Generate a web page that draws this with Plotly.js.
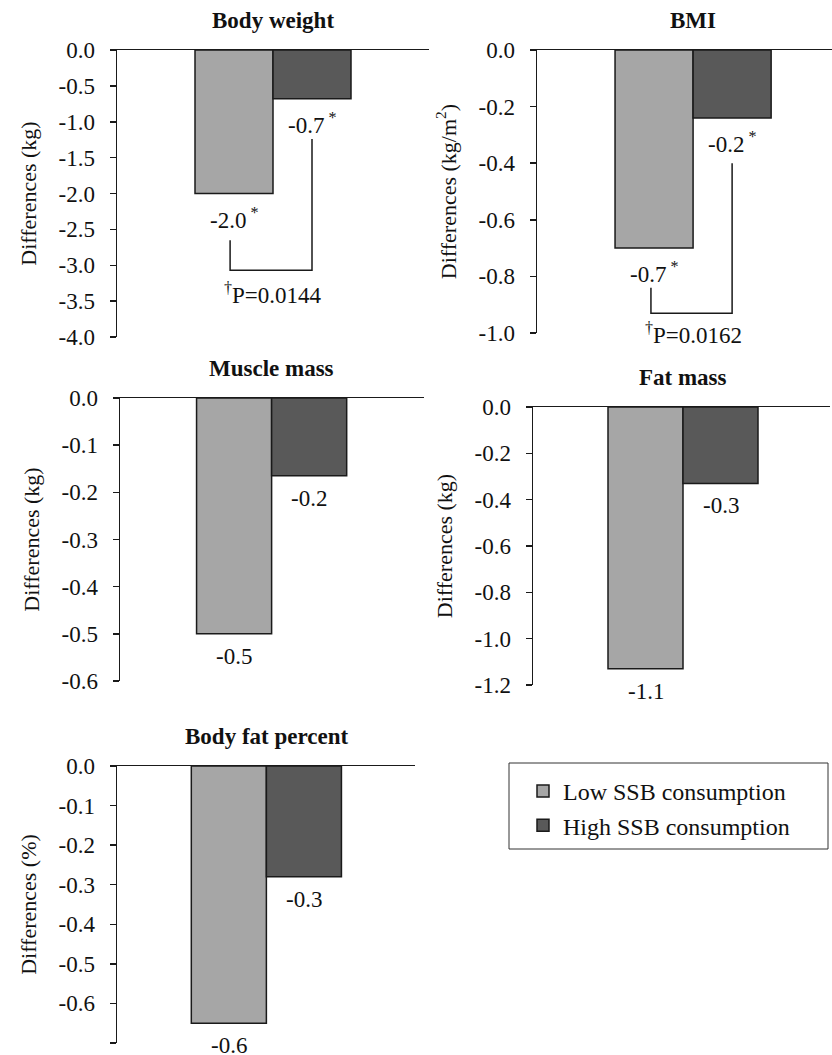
<!DOCTYPE html>
<html>
<head>
<meta charset="utf-8">
<script src="https://cdn.plot.ly/plotly-3.0.1.min.js"></script>
<style>html,body{margin:0;padding:0;background:#fff;}#chart{width:832px;height:1055px;}</style>
</head>
<body>
<div id="chart"></div>
<script>
// ---------- data ----------
const panelTitles = ["Body weight", "BMI", "Muscle mass", "Fat mass", "Body fat percent"];
const categories = ["Low SSB consumption", "High SSB consumption"];
const lowValues  = [-2.00, -0.70, -0.50, -1.13, -0.65];
const highValues = [-0.68, -0.24, -0.165, -0.33, -0.28];
const lowLabels  = ["-2.0", "-0.7", "-0.5", "-1.1", "-0.6"];
const highLabels = ["-0.7", "-0.2", "-0.2", "-0.3", "-0.3"];
const significant = [true, true, false, false, false];
const pValueLabels = ["P=0.0144", "P=0.0162", null, null, null];
const yTitles = ["Differences (kg)", "Differences (kg/m<sup>2</sup>)", "Differences (kg)", "Differences (kg)", "Differences (%)"];
const yTickVals = [
  [0, -0.5, -1, -1.5, -2, -2.5, -3, -3.5, -4],
  [0, -0.2, -0.4, -0.6, -0.8, -1],
  [0, -0.1, -0.2, -0.3, -0.4, -0.5, -0.6],
  [0, -0.2, -0.4, -0.6, -0.8, -1, -1.2],
  [0, -0.1, -0.2, -0.3, -0.4, -0.5, -0.6, -0.7]
];
const yTickText = [
  ["0.0", "-0.5", "-1.0", "-1.5", "-2.0", "-2.5", "-3.0", "-3.5", "-4.0"],
  ["0.0", "-0.2", "-0.4", "-0.6", "-0.8", "-1.0"],
  ["0.0", "-0.1", "-0.2", "-0.3", "-0.4", "-0.5", "-0.6"],
  ["0.0", "-0.2", "-0.4", "-0.6", "-0.8", "-1.0", "-1.2"],
  ["0.0", "-0.1", "-0.2", "-0.3", "-0.4", "-0.5", "-0.6", "-0.7"]
];

// ---------- layout geometry (pixels) ----------
const W = 832, H = 1055;
const boxes = [
  {x: [117, 429], y: [50, 337],  xr: [-1.5, 2.5]},
  {x: [537, 832], y: [50, 333],  xr: [-1.5, 2.28]},
  {x: [120, 424], y: [398, 681], xr: [-1.52, 2.53]},
  {x: [533, 830], y: [407, 685], xr: [-1.5, 2.46]},
  {x: [117, 415], y: [766, 1043], xr: [-1.49, 2.48]}
];
// bracket geometry in data units: [xLeft, yLeftTop, xRight, yRightTop, yBottom, pLabelY]
const brackets = [
  [-0.05, -2.65, 1.0, -1.24, -3.07, -3.39],
  [-0.04, -0.84, 1.0, -0.40, -0.93, -1.0]
];

const FONT = 'Times New Roman';
const INK = '#1a1a1a';
const TXT = '#111';
const LOW_COLOR = '#a6a6a6';
const HIGH_COLOR = '#595959';
const f = (size) => ({family: FONT, size: size, color: TXT});

const data = [];
const layout = {
  width: W, height: H,
  margin: {l: 0, r: 0, t: 0, b: 0},
  paper_bgcolor: '#fff', plot_bgcolor: 'rgba(0,0,0,0)',
  font: f(22),
  barmode: 'overlay', bargap: 0,
  showlegend: true,
  legend: {
    x: 523 / W, y: 1 - 769 / H, xanchor: 'left', yanchor: 'top',
    bgcolor: 'rgba(0,0,0,0)', borderwidth: 0,
    font: f(24), tracegroupgap: 0
  },
  annotations: [],
  shapes: []
};

panelTitles.forEach((title, i) => {
  const n = i === 0 ? '' : String(i + 1);
  const xr = 'x' + n, yr = 'y' + n;
  const b = boxes[i];
  data.push({
    type: 'bar', x: [categories[0]], y: [lowValues[i]], xaxis: xr, yaxis: yr,
    name: categories[0], legendgroup: 'low', showlegend: i === 0,
    marker: {color: LOW_COLOR, line: {color: INK, width: 1.5}}, cliponaxis: true
  });
  data.push({
    type: 'bar', x: [categories[1]], y: [highValues[i]], xaxis: xr, yaxis: yr,
    name: categories[1], legendgroup: 'high', showlegend: i === 0,
    marker: {color: HIGH_COLOR, line: {color: INK, width: 1.5}}, cliponaxis: true
  });
  layout['xaxis' + n] = {
    domain: [b.x[0] / W, b.x[1] / W], range: b.xr, type: 'category',
    categoryorder: 'array', categoryarray: categories,
    anchor: yr, side: 'top', showline: true, linecolor: INK, linewidth: 1.5,
    ticks: '', showticklabels: false, showgrid: false, zeroline: false, fixedrange: true
  };
  layout['yaxis' + n] = {
    domain: [1 - b.y[1] / H, 1 - b.y[0] / H], range: [yTickVals[i][yTickVals[i].length - 1], 0],
    anchor: xr, tickmode: 'array', tickvals: yTickVals[i], ticktext: yTickText[i],
    ticks: 'outside', ticklen: 6, tickwidth: 1.5, tickcolor: INK,
    showline: true, linecolor: INK, linewidth: 1.5, showgrid: false, zeroline: false,
    tickfont: f(23), ticklabelstandoff: 10,
    title: {text: yTitles[i], font: f(22), standoff: 16},
    automargin: false, fixedrange: true
  };
  // subplot title
  layout.annotations.push({
    text: '<b>' + title + '</b>', xref: xr, yref: yr + ' domain', x: 0.5, y: 1,
    yanchor: 'bottom', yshift: 15, showarrow: false, font: f(23)
  });
  const star = significant[i] ? '<sup> *</sup>' : '';
  layout.annotations.push({
    text: lowLabels[i] + star, xref: xr, yref: yr, x: categories[0], y: lowValues[i],
    yanchor: 'top', yshift: -8, showarrow: false, font: f(23)
  });
  layout.annotations.push({
    text: highLabels[i] + star, xref: xr, yref: yr, x: categories[1], y: highValues[i],
    yanchor: 'top', yshift: -8, showarrow: false, font: f(23)
  });
  if (pValueLabels[i]) {
    const br = brackets[i];
    layout.shapes.push({
      type: 'path', xref: xr, yref: yr,
      path: `M ${br[0]},${br[1]} L ${br[0]},${br[4]} L ${br[2]},${br[4]} L ${br[2]},${br[3]}`,
      line: {color: INK, width: 1.5}
    });
    layout.annotations.push({
      text: '<sup>†</sup>' + pValueLabels[i], xref: xr, yref: yr, x: 0.5, y: br[5],
      yanchor: 'middle', showarrow: false, font: f(23)
    });
  }
});

// legend frame
layout.shapes.push({
  type: 'rect', xref: 'paper', yref: 'paper',
  x0: 509 / W, x1: 828 / W, y0: 1 - 849 / H, y1: 1 - 763 / H,
  line: {color: '#333', width: 1}, fillcolor: 'rgba(0,0,0,0)'
});

Plotly.newPlot('chart', data, layout, {displayModeBar: false, staticPlot: true});
</script>
</body>
</html>
